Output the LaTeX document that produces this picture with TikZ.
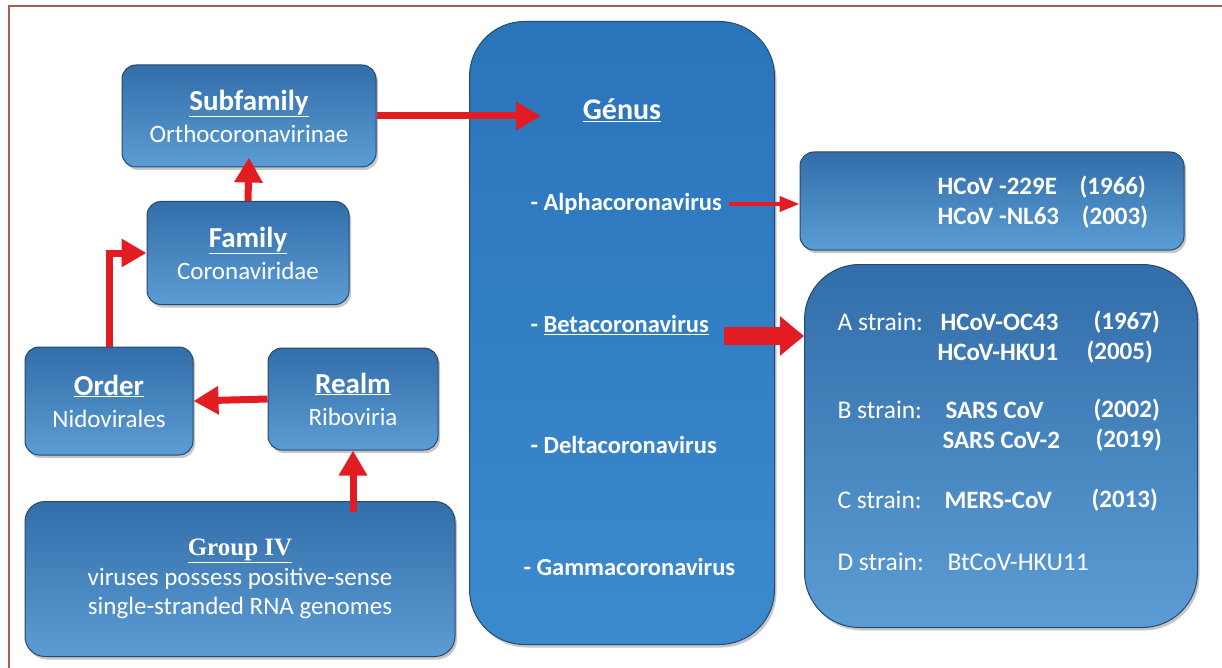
\documentclass[tikz,border=0pt]{standalone}
\usepackage{fontspec}
\setmainfont{Carlito}
\newfontfamily\grpfont{Liberation Serif}
\usepackage{xcolor}
\usetikzlibrary{arrows.meta, positioning, shadows, calc}
\definecolor{boxtop}{RGB}{50,110,170}
\definecolor{boxbot}{RGB}{92,156,212}
\definecolor{boxedge}{RGB}{36,74,112}
\definecolor{gentop}{RGB}{42,116,186}
\definecolor{genbot}{RGB}{60,138,206}
\definecolor{arrowred}{RGB}{226,28,34}
\definecolor{framered}{RGB}{168,92,84}
\newcommand{\headtxt}[1]{{\fontsize{29}{31}\selectfont\bfseries\underline{#1}}}
\tikzstyle{taxon} = [rectangle, rounded corners=14pt, draw=boxedge, line width=1pt, top color=boxtop, bottom color=boxbot, text=white, align=center, font=\fontsize{25}{32}\selectfont, drop shadow={shadow xshift=2pt, shadow yshift=-3pt, opacity=0.45}]
\tikzstyle{arrow} = [line width=7pt, draw=arrowred, -{Triangle[width=27pt,length=25pt]}]
\tikzstyle{item} = [text=white, anchor=west, font=\fontsize{24.5}{28}\selectfont\bfseries]
\tikzstyle{strain} = [text=white, anchor=west, font=\fontsize{25.5}{28}\selectfont]
\tikzstyle{virus} = [strain, font=\fontsize{25}{28}\selectfont\bfseries]

\begin{document}
\begin{tikzpicture}[x=1pt, y=-1pt]
    \useasboundingbox (0,0) rectangle (1222,668);
    \draw[framered, line width=1.5pt] (9,668) -- (9,6) -- (1222,6);

    % Taxonomy boxes
    \node (subfam) [taxon, minimum width=254pt, minimum height=102pt] at (249,116) {\headtxt{Subfamily}\\Orthocoronavirinae};
    \node (family) [taxon, minimum width=202pt, minimum height=103pt] at (248,253) {\headtxt{Family}\\Coronaviridae};
    \node (order) [taxon, minimum width=168pt, minimum height=108pt] at (109,401) {\headtxt{Order}\\Nidovirales};
    \node (realm) [taxon, minimum width=170pt, minimum height=102pt] at (353,399) {\headtxt{Realm}\\Riboviria};
    \node (group) [taxon, rounded corners=20pt, minimum width=430pt, minimum height=155pt, font=\fontsize{25}{29.5}\selectfont] at (240,579) {{\grpfont\fontsize{25}{29}\selectfont\bfseries\underline{Group IV}}\\viruses possess positive-sense\\single-stranded RNA genomes};

    % Genus
    \node (genus) [taxon, rounded corners=55pt, top color=gentop, bottom color=genbot, minimum width=305pt, minimum height=623pt] at (622,333) {};
    \node (gtitle) [text=white, font=\fontsize{30}{32}\selectfont\bfseries] at (622,110) {\underline{Génus}};
    \node (galpha) [item] at (527,204) {- Alphacoronavirus};
    \node (gbeta) [item] at (527,325) {- \underline{Betacoronavirus}};
    \node (gdelta) [item] at (527,445) {- Deltacoronavirus};
    \node (ggamma) [item] at (520,567) {- Gammacoronavirus};
    \coordinate (genin) at (541,116);

    % Strains
    \node (alphabox) [taxon, minimum width=384pt, minimum height=98pt] at (992,201) {};
    \node (a1) [virus] at (934,187) {HCoV -229E~~~~(1966)};
    \node (a2) [virus] at (934,217) {HCoV -NL63~~~~(2003)};

    \node (betabox) [taxon, rounded corners=55pt, minimum width=393pt, minimum height=363pt] at (1001,446) {};
    \node (sa) [strain] at (834,322) {A strain:};
    \node (sb) [strain] at (834,410) {B strain:};
    \node (sc) [strain] at (834,500) {C strain:};
    \node (sd) [strain] at (834,562) {D strain:};
    \node (na1) [virus] at (937,322) {HCoV-OC43};
    \node (na2) [virus] at (934,352) {HCoV-HKU1};
    \node (nb1) [virus] at (942,410) {SARS CoV};
    \node (nb2) [virus] at (939,440) {SARS CoV-2};
    \node (nc1) [virus] at (941,500) {MERS-CoV};
    \node (nd1) [strain] at (944,562) {BtCoV-HKU11};
    \node (ya1) [virus] at (1090,322) {(1967)};
    \node (ya2) [virus] at (1083,352) {(2005)};
    \node (yb1) [virus] at (1090,410) {(2002)};
    \node (yb2) [virus] at (1092,440) {(2019)};
    \node (yc1) [virus] at (1088,500) {(2013)};

    % Arrows
    \draw [arrow] (subfam.east) -- (genin);
    \draw [arrow] (family.north) -- ([yshift=10pt]subfam.south);
    \draw [arrow] (order.north) |- (family.west);
    \draw [arrow] (realm.west) -- (order.east);
    \draw [arrow] ([yshift=-11pt]realm.south |- group.north) -- (realm.south);
    \draw [arrow, line width=4pt, -{Triangle[width=15pt,length=20pt]}] ([xshift=4pt]galpha.east) -- (galpha.east -| alphabox.west);
    \draw [arrow, line width=18pt, -{Triangle[width=38pt,length=24pt]}] ([xshift=12pt,yshift=-11pt]gbeta.east) -- ([yshift=-11pt]gbeta.east -| betabox.west);
\end{tikzpicture}
\end{document}
